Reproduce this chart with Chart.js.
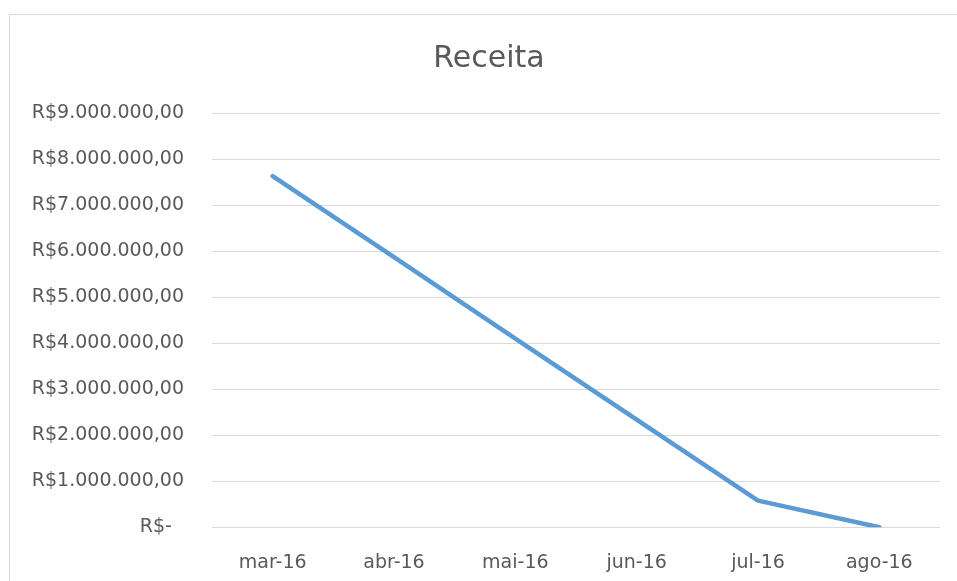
<!DOCTYPE html>
<html>
<head>
<meta charset="utf-8">
<script src="https://cdn.jsdelivr.net/npm/chart.js@4.4.1/dist/chart.umd.min.js"></script>
<style>
  body { margin: 0; background: #fff; overflow: hidden; }
  #frame { position: absolute; left: 9px; top: 14px; width: 1000px; height: 700px; border: 1px solid #d9d9d9; }
  #receita_chart { position: absolute; left: 0; top: 0; }
</style>
</head>
<body>
<div id="frame"></div>
<canvas id="receita_chart" width="957" height="581"></canvas>
<script>
// months on the x axis
const months = ['mar-16', 'abr-16', 'mai-16', 'jun-16', 'jul-16', 'ago-16'];
// revenue per month (R$)
const receita = [7630000, 5870000, 4100000, 2340000, 580000, 0];
// y axis ticks
const yTicks = [0, 1000000, 2000000, 3000000, 4000000, 5000000, 6000000, 7000000, 8000000, 9000000];

const font = 'DejaVu Sans';
const grey = '#595959';

function brl(v) {
    if (v === 0) return 'R$-\u00a0\u00a0';
    const s = Math.round(v).toString().replace(/\B(?=(\d{3})+(?!\d))/g, '.');
    return 'R$' + s + ',00';
}

const ctx = document.getElementById('receita_chart').getContext('2d');

let mychart = new Chart(ctx, {
    type: 'line',
    data: {
        labels: months,
        datasets: [{
            label: 'Receita',
            data: receita,
            borderColor: '#5b9bd5',
            borderWidth: 4.5,
            borderCapStyle: 'round',
            borderJoinStyle: 'round',
            pointRadius: 0,
            tension: 0,
            fill: false
        }]
    },
    options: {
        responsive: false,
        animation: false,
        layout: {
            // left padding shifts the title centre onto the frame centre
            padding: { left: 21, right: 0, top: 0, bottom: 0 }
        },
        plugins: {
            legend: { display: false },
            tooltip: { enabled: false },
            title: {
                display: true,
                text: 'Receita',
                color: grey,
                font: { family: font, size: 30, weight: 'normal' },
                padding: { top: 41, bottom: 36 }
            }
        },
        scales: {
            x: {
                offset: true,
                grid: { display: false, drawTicks: false },
                border: { display: false },
                ticks: {
                    color: grey,
                    font: { family: font, size: 19 },
                    padding: 24,
                    maxRotation: 0
                },
                afterFit(scale) { scale.height = 53.7; }
            },
            y: {
                min: 0,
                max: 9000000,
                afterBuildTicks(scale) {
                    scale.ticks = yTicks.map(v => ({ value: v }));
                },
                grid: { color: '#d9d9d9', lineWidth: 1, drawTicks: false },
                border: { display: false },
                ticks: {
                    color: grey,
                    font: { family: font, size: 19 },
                    padding: 28,
                    callback: (v) => brl(v)
                },
                afterFit(scale) { scale.width = 191; }
            },
            // empty axis on the right, only keeps the gap after the grid
            spacer: {
                type: 'linear',
                position: 'right',
                grid: { display: false, drawTicks: false },
                border: { display: false },
                ticks: { display: false },
                afterFit(scale) { scale.width = 17; }
            }
        }
    }
});
</script>
</body>
</html>
